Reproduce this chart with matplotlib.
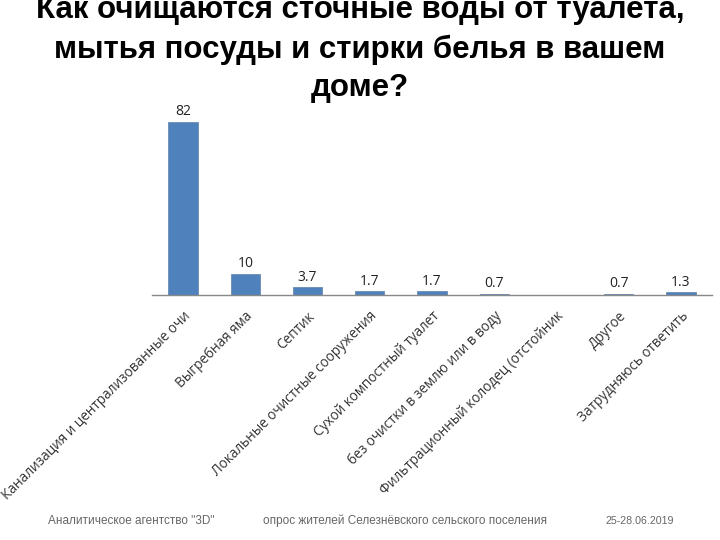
import numpy as np
import matplotlib.pyplot as plt

plt.rcParams['font.family'] = ['Liberation Sans', 'DejaVu Sans']

categories = ["Канализация и централизованные очистные сооружения",
              "Выгребная яма",
              "Септик",
              "Локальные очистные сооружения",
              "Сухой компостный туалет",
              "без очистки в землю или в воду",
              "Фильтрационный колодец (отстойник",
              "Другое",
              "Затрудняюсь ответить"]
values = [82, 10, 3.7, 1.7, 1.7, 0.7, 0, 0.7, 1.3]
value_labels = ["82", "10", "3.7", "1.7", "1.7", "0.7", "", "0.7", "1.3"]
# подписи на оси в оригинале обрезаны
tick_labels = ["Канализация и централизованные очи",
               "Выгребная яма",
               "Септик",
               "Локальные очистные сооружения",
               "Сухой компостный туалет",
               "без очистки в землю или в воду",
               "Фильтрационный колодец (отстойник",
               "Другое",
               "Затрудняюсь ответить"]

fig = plt.figure(figsize=(7.2, 5.4), dpi=100)
ax = fig.add_axes([152 / 720, 1 - 295 / 540, 560 / 720, 190 / 540])

x = np.arange(len(values))
ax.bar(x, values, width=0.47, color='#4F81BD', edgecolor='#6a8bb0', linewidth=0.6)
for xi, v, lab in zip(x, values, value_labels):
    if lab:
        ax.text(xi, v + 1.2, lab, ha='center', va='bottom', fontsize=10,
                color='#222222', family=['Open Sans', 'DejaVu Sans'])

ax.set_xlim(-0.5, len(values) - 0.5)
ax.set_ylim(0, 90)
ax.set_yticks([])
ax.set_xticks(x)
ax.set_xticklabels(tick_labels, rotation=45, ha='right', rotation_mode='anchor',
                   fontsize=9.8, color='#333333', family=['Open Sans', 'DejaVu Sans'])
ax.tick_params(axis='x', length=0, pad=10)
for s in ['top', 'right', 'left']:
    ax.spines[s].set_visible(False)
ax.spines['bottom'].set_color('#888888')
ax.spines['bottom'].set_linewidth(1.0)

title_lines = ["Как очищаются сточные воды от туалета,",
               "мытья посуды и стирки белья в вашем",
               "доме?"]
for yy, t in zip([10, 50, 88], title_lines):
    fig.text(0.5, 1 - yy / 540, t, ha='center', va='center', fontsize=22.5,
             fontweight='bold', color='black')

fig.text(48 / 720, 1 - 521 / 540, 'Аналитическое агентство "3D"', fontsize=8.5,
         color='#666666', va='center', ha='left')
fig.text(263 / 720, 1 - 521 / 540, 'опрос жителей Селезнёвского сельского поселения',
         fontsize=8.5, color='#666666', va='center', ha='left')
fig.text(605 / 720, 1 - 521 / 540, '25-28.06.2019', fontsize=7.7,
         color='#666666', va='center', ha='left')

fig.savefig('out.png', dpi=100)
